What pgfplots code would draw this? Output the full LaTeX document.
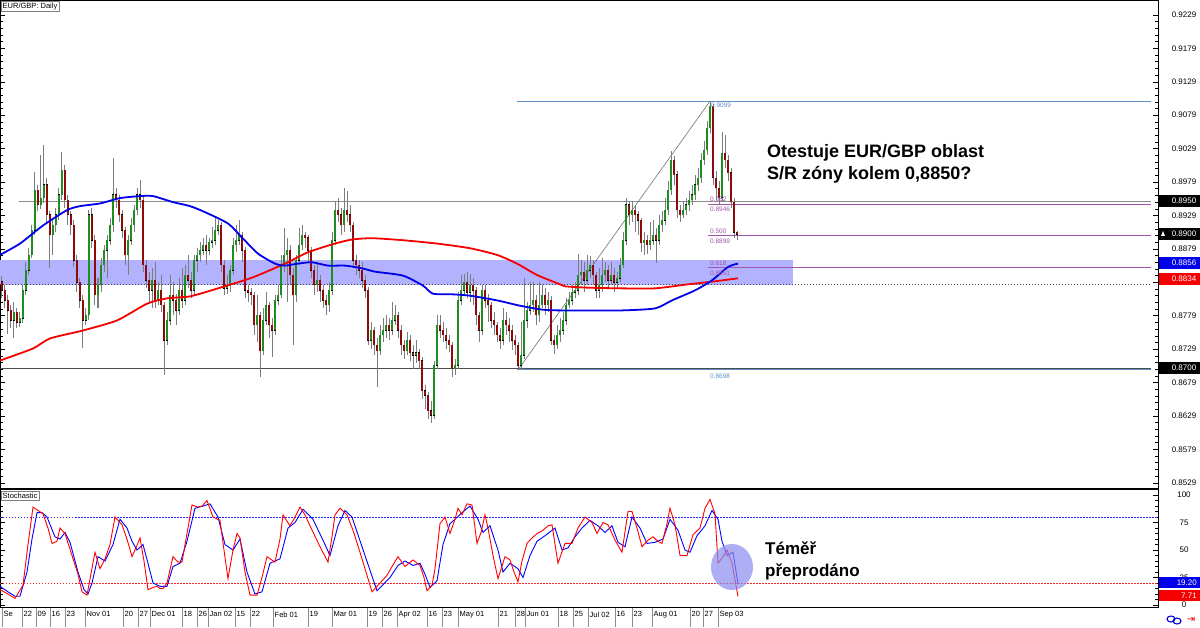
\documentclass[border=0pt]{standalone}
\usepackage{fontspec}
\setmainfont{Liberation Sans}
\newfontfamily\dejavu{DejaVu Sans}
\usepackage{pgfplots}
\usepackage{pgfplotstable}
\pgfplotsset{compat=1.18}

\definecolor{cgreen}{RGB}{30,140,30}
\definecolor{cred}{RGB}{140,10,10}
\definecolor{wick}{RGB}{125,125,125}
\definecolor{zone}{RGB}{178,178,255}
\definecolor{fibblue}{RGB}{95,145,200}
\definecolor{fibpurple}{RGB}{160,85,170}
\definecolor{maBlue}{RGB}{0,0,235}
\definecolor{maRed}{RGB}{245,0,0}

\pgfplotstableread{
x o h l c
2 0.8830 0.8838 0.8805 0.8817
5 0.8817 0.8825 0.8790 0.8802
8 0.8802 0.8810 0.8752 0.8787
11 0.8787 0.8795 0.8760 0.8772
14 0.8772 0.8800 0.8745 0.8784
17 0.8784 0.8790 0.8760 0.8769
20 0.8769 0.8785 0.8762 0.8775
23 0.8775 0.8825 0.8768 0.8817
26 0.8817 0.8860 0.8810 0.8847
29 0.8847 0.8880 0.8840 0.8870
32 0.8870 0.8915 0.8865 0.8907
35 0.8907 0.8994 0.8900 0.8967
38 0.8967 0.8975 0.8935 0.8945
41 0.8945 0.9020 0.8938 0.8955
44 0.8955 0.9035 0.8948 0.8975
47 0.8975 0.8985 0.8920 0.8930
50 0.8930 0.8935 0.8850 0.8900
53 0.8900 0.8925 0.8870 0.8915
56 0.8915 0.8940 0.8905 0.8930
59 0.8930 0.8970 0.8922 0.8960
62 0.8960 0.9024 0.8952 0.8997
65 0.8997 0.9005 0.8940 0.8952
68 0.8952 0.8960 0.8915 0.8930
71 0.8930 0.8935 0.8900 0.8915
74 0.8915 0.8922 0.8852 0.8862
77 0.8862 0.8870 0.8815 0.8829
80 0.8829 0.8835 0.8790 0.8802
83 0.8802 0.8810 0.8731 0.8772
86 0.8772 0.8790 0.8765 0.8780
89 0.8780 0.8937 0.8772 0.8930
92 0.8930 0.8940 0.8880 0.8892
95 0.8892 0.8900 0.8795 0.8810
98 0.8810 0.8835 0.8790 0.8825
101 0.8825 0.8865 0.8815 0.8855
104 0.8855 0.8885 0.8845 0.8877
107 0.8877 0.8900 0.8835 0.8892
110 0.8892 0.8925 0.8885 0.8915
113 0.8915 0.9015 0.8905 0.8960
116 0.8960 0.8970 0.8940 0.8952
119 0.8952 0.8960 0.8920 0.8930
122 0.8930 0.8937 0.8895 0.8907
125 0.8907 0.8912 0.8855 0.8870
128 0.8870 0.8900 0.8840 0.8892
131 0.8892 0.8925 0.8885 0.8915
134 0.8915 0.8945 0.8905 0.8937
137 0.8937 0.8970 0.8930 0.8960
140 0.8960 0.8982 0.8940 0.8952
143 0.8952 0.8960 0.8845 0.8855
146 0.8855 0.8862 0.8820 0.8832
149 0.8832 0.8845 0.8800 0.8817
152 0.8817 0.8850 0.8790 0.8832
155 0.8832 0.8860 0.8790 0.8802
158 0.8802 0.8830 0.8795 0.8817
161 0.8817 0.8840 0.8785 0.8795
164 0.8795 0.8800 0.8690 0.8742
167 0.8742 0.8785 0.8735 0.8772
170 0.8772 0.8840 0.8765 0.8810
173 0.8810 0.8830 0.8780 0.8802
176 0.8802 0.8812 0.8765 0.8787
179 0.8787 0.8835 0.8780 0.8817
182 0.8817 0.8850 0.8790 0.8802
185 0.8802 0.8855 0.8795 0.8840
188 0.8840 0.8870 0.8820 0.8832
191 0.8832 0.8845 0.8805 0.8817
194 0.8817 0.8870 0.8810 0.8862
197 0.8862 0.8880 0.8845 0.8870
200 0.8870 0.8890 0.8860 0.8877
203 0.8877 0.8895 0.8870 0.8885
206 0.8885 0.8900 0.8855 0.8877
209 0.8877 0.8895 0.8870 0.8889
212 0.8889 0.8912 0.8880 0.8892
215 0.8892 0.8925 0.8885 0.8907
218 0.8907 0.8922 0.8900 0.8915
221 0.8915 0.8920 0.8845 0.8855
224 0.8855 0.8862 0.8810 0.8820
227 0.8820 0.8840 0.8812 0.8825
230 0.8825 0.8855 0.8815 0.8847
233 0.8847 0.8895 0.8840 0.8885
236 0.8885 0.8915 0.8875 0.8892
239 0.8892 0.8922 0.8885 0.8900
242 0.8900 0.8905 0.8860 0.8877
245 0.8877 0.8882 0.8805 0.8817
248 0.8817 0.8825 0.8800 0.8814
251 0.8814 0.8820 0.8795 0.8810
254 0.8810 0.8815 0.8750 0.8765
257 0.8765 0.8810 0.8740 0.8780
260 0.8780 0.8785 0.8687 0.8727
263 0.8727 0.8790 0.8720 0.8772
266 0.8772 0.8815 0.8765 0.8795
269 0.8795 0.8800 0.8745 0.8765
272 0.8765 0.8775 0.8717 0.8757
275 0.8757 0.8810 0.8750 0.8802
278 0.8802 0.8825 0.8795 0.8810
281 0.8810 0.8870 0.8805 0.8855
284 0.8855 0.8910 0.8845 0.8870
287 0.8870 0.8895 0.8800 0.8877
290 0.8877 0.8885 0.8825 0.8840
293 0.8840 0.8850 0.8735 0.8810
296 0.8810 0.8870 0.8800 0.8862
299 0.8862 0.8910 0.8855 0.8885
302 0.8885 0.8915 0.8878 0.8900
305 0.8900 0.8905 0.8880 0.8896
308 0.8896 0.8900 0.8860 0.8877
311 0.8877 0.8882 0.8835 0.8847
314 0.8847 0.8855 0.8810 0.8825
317 0.8825 0.8860 0.8815 0.8832
320 0.8832 0.8840 0.8800 0.8817
323 0.8817 0.8825 0.8790 0.8802
326 0.8802 0.8810 0.8780 0.8795
329 0.8795 0.8830 0.8785 0.8817
332 0.8817 0.8905 0.8810 0.8892
335 0.8892 0.8950 0.8885 0.8937
338 0.8937 0.8955 0.8920 0.8930
341 0.8930 0.8940 0.8900 0.8915
344 0.8915 0.8970 0.8905 0.8937
347 0.8937 0.8965 0.8920 0.8930
350 0.8930 0.8945 0.8905 0.8915
353 0.8915 0.8920 0.8850 0.8862
356 0.8862 0.8870 0.8840 0.8855
359 0.8855 0.8862 0.8835 0.8847
362 0.8847 0.8860 0.8820 0.8832
365 0.8832 0.8840 0.8805 0.8817
368 0.8817 0.8822 0.8735 0.8742
371 0.8742 0.8770 0.8730 0.8757
374 0.8757 0.8762 0.8720 0.8735
377 0.8735 0.8745 0.8672 0.8727
380 0.8727 0.8765 0.8720 0.8750
383 0.8750 0.8775 0.8740 0.8757
386 0.8757 0.8780 0.8745 0.8765
389 0.8765 0.8775 0.8742 0.8757
392 0.8757 0.8800 0.8750 0.8772
395 0.8772 0.8795 0.8765 0.8780
398 0.8780 0.8785 0.8745 0.8757
401 0.8757 0.8765 0.8720 0.8735
404 0.8735 0.8742 0.8715 0.8727
407 0.8727 0.8755 0.8720 0.8742
410 0.8742 0.8750 0.8712 0.8724
413 0.8724 0.8735 0.8700 0.8720
416 0.8720 0.8742 0.8708 0.8724
419 0.8724 0.8730 0.8700 0.8712
422 0.8712 0.8718 0.8655 0.8667
425 0.8667 0.8675 0.8640 0.8660
428 0.8660 0.8665 0.8625 0.8637
431 0.8637 0.8652 0.8619 0.8630
434 0.8630 0.8712 0.8625 0.8705
437 0.8705 0.8780 0.8700 0.8765
440 0.8765 0.8780 0.8745 0.8757
443 0.8757 0.8770 0.8740 0.8750
446 0.8750 0.8760 0.8730 0.8742
449 0.8742 0.8750 0.8725 0.8735
452 0.8735 0.8740 0.8687 0.8700
455 0.8700 0.8715 0.8690 0.8705
458 0.8705 0.8815 0.8700 0.8802
461 0.8802 0.8840 0.8795 0.8817
464 0.8817 0.8842 0.8810 0.8829
467 0.8829 0.8845 0.8805 0.8814
470 0.8814 0.8842 0.8800 0.8825
473 0.8825 0.8835 0.8795 0.8817
476 0.8817 0.8822 0.8765 0.8780
479 0.8780 0.8785 0.8740 0.8757
482 0.8757 0.8825 0.8750 0.8817
485 0.8817 0.8825 0.8790 0.8802
488 0.8802 0.8812 0.8770 0.8795
491 0.8795 0.8800 0.8760 0.8772
494 0.8772 0.8785 0.8750 0.8765
497 0.8765 0.8770 0.8740 0.8750
500 0.8750 0.8760 0.8730 0.8742
503 0.8742 0.8790 0.8735 0.8772
506 0.8772 0.8785 0.8750 0.8765
509 0.8765 0.8775 0.8740 0.8757
512 0.8757 0.8765 0.8728 0.8742
515 0.8742 0.8750 0.8720 0.8735
518 0.8735 0.8740 0.8698 0.8705
521 0.8705 0.8770 0.8700 0.8720
524 0.8720 0.8836 0.8715 0.8772
527 0.8772 0.8800 0.8760 0.8787
530 0.8787 0.8830 0.8780 0.8795
533 0.8795 0.8830 0.8785 0.8802
536 0.8802 0.8810 0.8765 0.8780
539 0.8780 0.8830 0.8770 0.8795
542 0.8795 0.8825 0.8790 0.8810
545 0.8810 0.8820 0.8780 0.8795
548 0.8795 0.8815 0.8785 0.8802
551 0.8802 0.8808 0.8735 0.8742
554 0.8742 0.8750 0.8722 0.8735
557 0.8735 0.8765 0.8730 0.8750
560 0.8750 0.8775 0.8740 0.8757
563 0.8757 0.8785 0.8750 0.8772
566 0.8772 0.8805 0.8765 0.8795
569 0.8795 0.8815 0.8790 0.8802
572 0.8802 0.8825 0.8795 0.8814
575 0.8814 0.8830 0.8805 0.8817
578 0.8817 0.8872 0.8810 0.8840
581 0.8840 0.8862 0.8825 0.8844
584 0.8844 0.8860 0.8815 0.8832
587 0.8832 0.8870 0.8825 0.8847
590 0.8847 0.8868 0.8835 0.8855
593 0.8855 0.8862 0.8825 0.8840
596 0.8840 0.8845 0.8805 0.8817
599 0.8817 0.8850 0.8805 0.8825
602 0.8825 0.8865 0.8815 0.8840
605 0.8840 0.8860 0.8830 0.8847
608 0.8847 0.8855 0.8820 0.8832
611 0.8832 0.8860 0.8825 0.8840
614 0.8840 0.8850 0.8815 0.8829
617 0.8829 0.8845 0.8820 0.8835
620 0.8835 0.8865 0.8828 0.8855
623 0.8855 0.8905 0.8850 0.8892
626 0.8892 0.8955 0.8885 0.8945
629 0.8945 0.8950 0.8915 0.8930
632 0.8930 0.8950 0.8920 0.8937
635 0.8937 0.8945 0.8905 0.8930
638 0.8930 0.8935 0.8900 0.8922
641 0.8922 0.8925 0.8875 0.8888
644 0.8888 0.8905 0.8870 0.8892
647 0.8892 0.8900 0.8872 0.8885
650 0.8885 0.8920 0.8878 0.8892
653 0.8892 0.8922 0.8885 0.8900
656 0.8900 0.8910 0.8858 0.8892
659 0.8892 0.8930 0.8885 0.8915
662 0.8915 0.8935 0.8905 0.8922
665 0.8922 0.8955 0.8915 0.8937
668 0.8937 0.8980 0.8930 0.8967
671 0.8967 0.9025 0.8960 0.9012
674 0.9012 0.9018 0.8975 0.8990
677 0.8990 0.8995 0.8925 0.8937
680 0.8937 0.8945 0.8920 0.8930
683 0.8930 0.8950 0.8925 0.8937
686 0.8937 0.8955 0.8930 0.8945
689 0.8945 0.8965 0.8935 0.8952
692 0.8952 0.8975 0.8945 0.8960
695 0.8960 0.8990 0.8952 0.8975
698 0.8975 0.9000 0.8965 0.8985
701 0.8985 0.9022 0.8978 0.9012
704 0.9012 0.9040 0.9005 0.9027
707 0.9027 0.9070 0.9020 0.9060
710 0.9060 0.9100 0.9052 0.9093
713 0.9093 0.9096 0.8975 0.8985
716 0.8985 0.8995 0.8952 0.8970
719 0.8970 0.8980 0.8945 0.8956
722 0.8956 0.9054 0.8950 0.9022
725 0.9022 0.9050 0.9000 0.9012
728 0.9012 0.9020 0.8980 0.8993
731 0.8993 0.9000 0.8940 0.8949
734 0.8949 0.8955 0.8895 0.8904
737 0.8904 0.8906 0.8892 0.8901
}\candles

\begin{document}
\begin{tikzpicture}[x=1pt,y=1pt]
\useasboundingbox (0,0) rectangle (1200,-628);
\fill[white] (0,0) rectangle (1200,-628);

% ---------------- main price panel ----------------
\begin{axis}[
  at={(0pt,0pt)}, anchor=north west, scale only axis,
  width=1158pt, height=488pt,
  xmin=0, xmax=1158, ymin=0.85213, ymax=0.92514,
  axis line style={black, line width=0.8pt},
  xtick=\empty,
  ytick={0.8529,0.8579,0.8629,0.8679,0.8729,0.8779,0.8829,0.8879,0.8929,0.8979,0.9029,0.9079,0.9129,0.9179,0.9229},
  yticklabels={0.8529,0.8579,0.8629,0.8679,0.8729,0.8779,,0.8879,0.8929,0.8979,0.9029,0.9079,0.9129,0.9179,0.9229},
  minor y tick num=4,
  yticklabel pos=right, ytick pos=both,
  tick align=inside, major tick length=5pt, minor tick length=3pt,
  tick style={black, line width=0.6pt},
  yticklabel style={anchor=center, xshift=26pt, font=\fontsize{8}{9}\selectfont},
  clip=true,
]
% S/R zone
\fill[zone] (axis cs:0,0.8862) rectangle (axis cs:793,0.8825);
% horizontal levels
\draw[black!45, line width=1.8pt] (axis cs:19,0.8950) -- (axis cs:1151,0.8950);
\draw[black!70, line width=1.3pt] (axis cs:0,0.8700) -- (axis cs:1151,0.8700);
\draw[black!75, dotted, line width=1pt] (axis cs:0,0.8826) -- (axis cs:1151,0.8826);
% fibonacci
\draw[fibblue, line width=1.2pt] (axis cs:517,0.9100) -- (axis cs:1151,0.9100);
\draw[fibblue, line width=1.2pt] (axis cs:517,0.8698) -- (axis cs:1151,0.8698);
\draw[fibpurple, line width=1pt] (axis cs:708,0.8946) -- (axis cs:1151,0.8946);
\draw[fibpurple, line width=1pt] (axis cs:708,0.8899) -- (axis cs:1151,0.8899);
\draw[fibpurple, line width=1pt] (axis cs:708,0.8851) -- (axis cs:1151,0.8851);
\draw[black!55, line width=0.6pt] (axis cs:518,0.8698) -- (axis cs:710,0.9100);

% candles: wicks
\addplot[draw=none, mark=none, forget plot,
  error bars/.cd, y dir=plus, y explicit, error mark=none,
  error bar style={line width=1pt, draw=wick}]
  table[x=x, y=l, y error plus expr={\thisrow{h}-\thisrow{l}}] {\candles};
% candles: body outlines
\addplot[draw=none, mark=none, forget plot,
  error bars/.cd, y dir=plus, y explicit, error mark=none,
  error bar style={line width=2.8pt, draw=black}]
  table[x=x, y expr={min(\thisrow{o},\thisrow{c})-0.00005},
        y error plus expr={abs(\thisrow{c}-\thisrow{o})+0.0001}] {\candles};
% bullish bodies
\addplot[draw=none, mark=none, forget plot,
  restrict expr to domain={\thisrow{c}-\thisrow{o}}{0:1},
  error bars/.cd, y dir=plus, y explicit, error mark=none,
  error bar style={line width=1.6pt, draw=cgreen}]
  table[x=x, y=o, y error plus expr={max(\thisrow{c}-\thisrow{o},0.00003)}] {\candles};
% bearish bodies
\addplot[draw=none, mark=none, forget plot,
  restrict expr to domain={\thisrow{o}-\thisrow{c}}{0.00001:1},
  error bars/.cd, y dir=plus, y explicit, error mark=none,
  error bar style={line width=1.6pt, draw=cred}]
  table[x=x, y=c, y error plus expr={\thisrow{o}-\thisrow{c}}] {\candles};

% moving averages
\addplot[maRed, line width=1.8pt, smooth, tension=0.4] coordinates {
(0,0.8712) (33,0.8730) (50,0.8745) (83,0.8757) (117,0.8772) (147,0.8797) (167,0.8805)
(190,0.8808) (218,0.8820) (252,0.8836) (285,0.8857) (308,0.8874) (335,0.8887) (352,0.8893)
(372,0.8895) (403,0.8892) (437,0.8887) (470,0.8880) (497,0.8870) (517,0.8857) (537,0.8840)
(560,0.8826) (565,0.8823) (588,0.8821) (622,0.8820) (655,0.8820) (688,0.8826) (712,0.8830) (738,0.8835)};
\addplot[maBlue, line width=1.8pt, smooth, tension=0.4] coordinates {
(0,0.8870) (20,0.8887) (43,0.8914) (67,0.8937) (80,0.8943) (100,0.8947) (120,0.8955)
(140,0.8958) (153,0.8958) (173,0.8949) (190,0.8943) (205,0.8934) (228,0.8917) (242,0.8896)
(258,0.8872) (275,0.8857) (285,0.8854) (298,0.8857) (312,0.8859) (328,0.8854) (345,0.8854)
(362,0.8850) (375,0.8845) (403,0.8839) (423,0.8824) (433,0.8812) (453,0.8811) (470,0.8809)
(497,0.8802) (520,0.8794) (543,0.8788) (560,0.8787) (588,0.8787) (622,0.8787) (655,0.8790)
(672,0.8802) (695,0.8817) (712,0.8832) (728,0.8852) (738,0.8857)};

% fibonacci labels
\begin{scope}[every node/.style={anchor=west, inner sep=0pt, font=\fontsize{6.5}{7}\selectfont}]
\node[text=fibblue] at (axis cs:711,0.9094) {0.9099};
\node[text=fibblue] at (axis cs:710,0.8688) {0.8698};
\node[text=fibpurple] at (axis cs:710,0.8953) {0.382};
\node[text=fibpurple] at (axis cs:710,0.8939) {0.8946};
\node[text=fibpurple] at (axis cs:710,0.8906) {0.500};
\node[text=fibpurple] at (axis cs:710,0.8891) {0.8899};
\node[text=fibpurple] at (axis cs:710,0.8857) {0.618};
\node[text=fibpurple] at (axis cs:710,0.8842) {0.8851};
\end{scope}
\end{axis}

% ---------------- stochastic panel ----------------
\begin{axis}[
  at={(0pt,-489pt)}, anchor=north west, scale only axis,
  width=1158pt, height=118pt,
  xmin=0, xmax=1158, ymin=-1.8, ymax=105.5,
  axis line style={black, line width=0.8pt},
  ytick={0,25,50,75,100}, yticklabels={0,25,50,75,100},
  minor y tick num=4,
  yticklabel pos=right, ytick pos=both,
  tick align=inside, major tick length=5pt, minor tick length=3pt,
  ytick style={black, line width=0.6pt},
  yticklabel style={anchor=center, xshift=26pt, font=\fontsize{8}{9}\selectfont},
  xtick={2,22,36,50,65,85,123,138,150,182,197,208,235,250,273,308,332,367,382,397,427,442,458,498,515,525,558,573,588,615,632,652,690,703,718},
  xticklabels={Se,22,09,16,23,Nov 01,20,27,Dec 01,18,26,Jan 02,15,22,Feb 01,19,Mar 01,19,26,Apr 02,16,23,May 01,21,28,Jun 01,18,25,Jul 02,16,23,Aug 01,20,27,Sep 03},
  xtick pos=bottom,
  xtick style={draw=none},
  xticklabel style={anchor=north west, inner sep=1.5pt, yshift=-3pt, font=\fontsize{7.5}{8}\selectfont},
]
\draw[draw={rgb,255:red,40;green,40;blue,255}, line width=1pt, dash pattern=on 1.5pt off 1.5pt] (axis cs:0,80) -- (axis cs:1158,80);
\draw[draw={rgb,255:red,255;green,40;blue,40}, line width=1pt, dash pattern=on 1.5pt off 1.5pt] (axis cs:0,20) -- (axis cs:1158,20);
% %D (signal)
\addplot[blue, line width=0.9pt] coordinates {
(0,17) (8,12) (15,8) (20,8) (27,30) (32,60) (37,84) (42,84) (47,80) (55,62) (60,60) (65,66) (70,57)
(78,30) (84,14) (88,10) (92,20) (98,44) (105,40) (113,55) (120,78) (127,70) (132,58) (137,50)
(143,55) (148,38) (153,20) (160,17) (167,17) (173,35) (180,38) (187,58) (195,88) (203,90) (210,92)
(218,80) (225,55) (233,50) (240,60) (247,30) (255,10) (262,12) (270,38) (280,42) (288,70) (295,75)
(303,87) (313,78) (325,55) (330,45) (338,72) (345,86) (352,80) (365,45) (377,13) (390,25) (398,36)
(405,40) (413,36) (420,38) (425,28) (430,16) (437,22) (443,55) (450,74) (455,78) (462,84) (470,90)
(478,78) (483,66) (490,72) (498,50) (503,30) (510,38) (518,33) (523,25) (530,45) (537,58) (545,63)
(555,70) (562,50) (568,52) (575,62) (582,70) (590,77) (598,72) (605,66) (612,72) (618,57) (625,53)
(632,80) (640,70) (647,56) (655,57) (663,60) (670,78) (678,68) (685,50) (690,48) (697,63) (705,72)
(712,86) (718,78) (722,58) (727,45) (733,48) (738,19.2)};
% %K (main)
\addplot[red, line width=0.9pt] coordinates {
(0,14) (8,10) (15,6) (23,18) (28,55) (33,89) (38,86) (43,83) (48,70) (52,56) (57,58) (60,70) (65,65)
(72,45) (78,28) (82,12) (87,9) (95,48) (100,33) (105,42) (110,55) (115,80) (122,73) (127,60) (132,44)
(136,52) (140,61) (144,40) (148,14) (153,16) (157,17) (160,15) (163,15) (167,20) (173,44) (178,39)
(182,39) (187,65) (192,91) (198,89) (202,90) (207,95) (213,80) (220,77) (224,50) (228,24) (233,50)
(237,65) (240,61) (245,30) (250,9) (257,9) (262,25) (267,44) (275,39) (280,60) (283,82) (290,72)
(295,80) (300,89) (305,82) (310,72) (320,53) (328,39) (332,62) (335,82) (340,88) (347,82) (353,68)
(360,48) (366,30) (372,12) (380,20) (387,27) (392,35) (398,44) (405,35) (413,41) (420,36) (424,25)
(427,13) (432,18) (435,33) (440,74) (445,80) (450,65) (455,78) (458,88) (462,82) (467,92) (472,91)
(477,56) (481,66) (485,82) (488,70) (493,45) (498,24) (505,44) (510,41) (514,30) (518,21) (522,40)
(527,56) (532,61) (537,65) (543,68) (548,72) (552,73) (558,38) (565,56) (572,56) (578,70) (585,80)
(592,75) (597,65) (603,75) (608,73) (615,59) (622,48) (628,85) (632,85) (637,70) (642,53) (648,59)
(653,62) (658,58) (662,56) (667,74) (670,88) (675,73) (680,45) (687,45) (693,64) (700,70) (705,88)
(710,96) (715,83) (718,38) (723,44) (727,50) (732,38) (738,7.71)};
\end{axis}

% ---------------- annotations (pixel coordinates) ----------------
% date separators
\foreach \p in {2,22,36,50,65,85,123,138,150,182,197,208,235,250,273,308,332,367,382,397,427,442,458,498,515,525,558,573,588,615,632,652,690,703,718}
  \draw[black!45, line width=0.6pt] (\p,-608) -- (\p,-627);

% panel labels
\node[draw=black!50, fill=white, anchor=north west, inner sep=1.5pt, font=\fontsize{7.5}{8}\selectfont] at (1,-1) {EUR/GBP: Daily};
\node[draw=black!50, fill=white, anchor=north west, inner sep=1.5pt, font=\fontsize{7.5}{8}\selectfont] at (1,-491) {Stochastic};

% price scale highlight boxes
\begin{scope}[every node/.style={font=\fontsize{8}{9}\selectfont, inner sep=0pt}]
\fill[black] (1159,-195) rectangle (1200,-207); \node[text=white] at (1184,-201) {0.8950};
\fill[black] (1159,-228) rectangle (1200,-240); \node[text=white] at (1184,-234) {0.8900};
\fill[white] (1161,-236) -- (1165,-236) -- (1163,-231) -- cycle;
\fill[maBlue] (1159,-257) rectangle (1200,-269); \node[text=white] at (1184,-263) {0.8856};
\fill[maRed] (1159,-273) rectangle (1200,-285); \node[text=white] at (1184,-279) {0.8834};
\fill[black] (1159,-362) rectangle (1200,-374); \node[text=white] at (1184,-368) {0.8700};
\fill[maBlue] (1159,-577) rectangle (1200,-588); \node[text=white, anchor=east] at (1197,-582.5) {19.20};
\fill[maRed] (1159,-590) rectangle (1200,-601); \node[text=white, anchor=east] at (1197,-595.5) {7.71};
\end{scope}

% oversold circle
\fill[fill={rgb,255:red,140;green,140;blue,240}, opacity=0.7] (732,-567) ellipse (21 and 23);

% text annotations
\node[anchor=base west, inner sep=0pt, font=\bfseries\fontsize{18}{22}\selectfont] at (767,-158) {Otestuje EUR/GBP oblast};
\node[anchor=base west, inner sep=0pt, font=\bfseries\fontsize{18}{22}\selectfont] at (767,-180) {S/R zóny kolem 0,8850?};
\node[anchor=base west, inner sep=0pt, font=\bfseries\fontsize{17}{20}\selectfont] at (765,-554) {Téměř};
\node[anchor=base west, inner sep=0pt, font=\bfseries\fontsize{17}{20}\selectfont] at (765,-576) {přeprodáno};

% bottom-right icons
\draw[blue!80!black, line width=1.1pt] (1171,-619) ellipse (4 and 3);
\draw[blue!80!black, line width=1.1pt] (1177,-621) ellipse (4 and 3);
\node[text=red, inner sep=0pt, font=\dejavu\fontsize{10}{10}\selectfont] at (1191,-620) {⇥};
\end{tikzpicture}
\end{document}
